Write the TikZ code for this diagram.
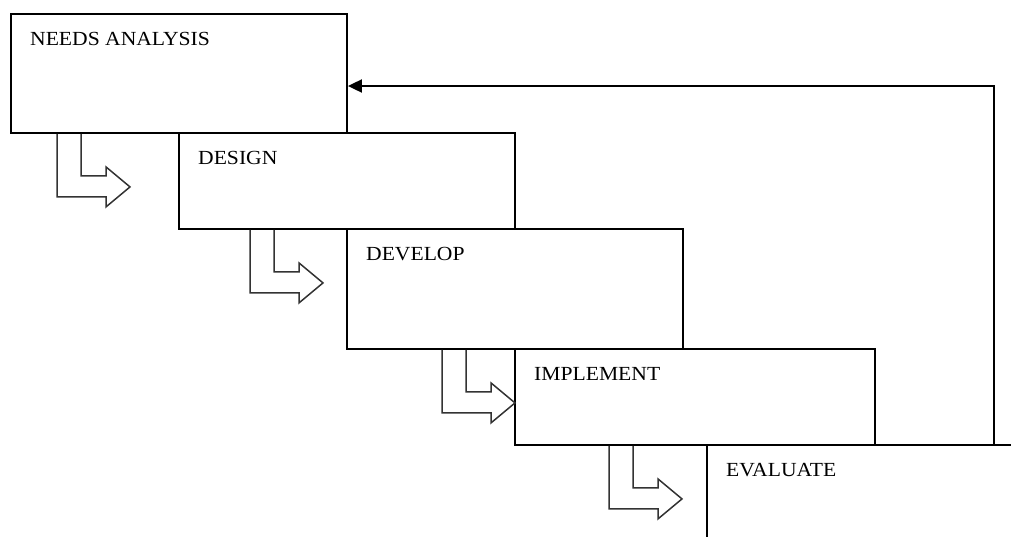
\documentclass[tikz,border=0pt]{standalone}
\usepackage{fontspec}
\setmainfont[FakeStretch=1.08]{Liberation Serif}
\usetikzlibrary{calc,arrows.meta}

\tikzset{
  stage/.style={draw=black, line width=1.9pt, rectangle, anchor=north west, inner sep=0pt},
  stagelabel/.style={anchor=base west, inner sep=0pt, font=\fontsize{20}{23}\selectfont},
  feedback/.style={draw=black, line width=1.9pt, -{Triangle[length=14pt,width=13pt]}},
  steparrow/.pic={
    \draw[line width=1.5pt, draw=black!80, line join=miter]
      (0,0) -- (0,63) -- (49,63) -- (49,73) -- (73,53) -- (49,33) -- (49,42)
      -- (24,42) -- (24,0);
  }
}

\begin{document}
\begin{tikzpicture}[x=1pt,y=-1pt]
  \useasboundingbox (0,0) rectangle (1011,536);
  \clip (0,0) rectangle (1011,536);

  % the five stages of the cycle
  \node[stage, minimum width=336pt, minimum height=119pt] (box1) at (10,13) {};
  \node[stage, minimum width=336pt, minimum height=96pt]  (box2) at (178,132) {};
  \node[stage, minimum width=336pt, minimum height=120pt] (box3) at (346,228) {};
  \node[stage, minimum width=360pt, minimum height=96pt]  (box4) at (514,348) {};
  \node[stage, minimum width=340pt, minimum height=120pt] (box5) at (706,444) {};

  \node[stagelabel] (lab1) at ($(box1.north west)+(20,32)$) {NEEDS ANALYSIS};
  \node[stagelabel] (lab2) at ($(box2.north west)+(20,32)$) {DESIGN};
  \node[stagelabel] (lab3) at ($(box3.north west)+(20,32)$) {DEVELOP};
  \node[stagelabel] (lab4) at ($(box4.north west)+(20,32)$) {IMPLEMENT};
  \node[stagelabel] (lab5) at ($(box5.north west)+(20,32)$) {EVALUATE};

  % hand-over arrows between consecutive stages
  \pic at (box1.south west -| 57,0) {steparrow};
  \pic at (box2.south west -| 250,0) {steparrow};
  \pic at (box3.south west -| 442,0) {steparrow};
  \pic at (box4.south west -| 609,0) {steparrow};

  % feedback from evaluation back to needs analysis
  \coordinate (fbcorner) at (994,86);
  \draw[feedback] (box5.north -| fbcorner) -- (fbcorner) -- (box1.east |- fbcorner);
\end{tikzpicture}
\end{document}
